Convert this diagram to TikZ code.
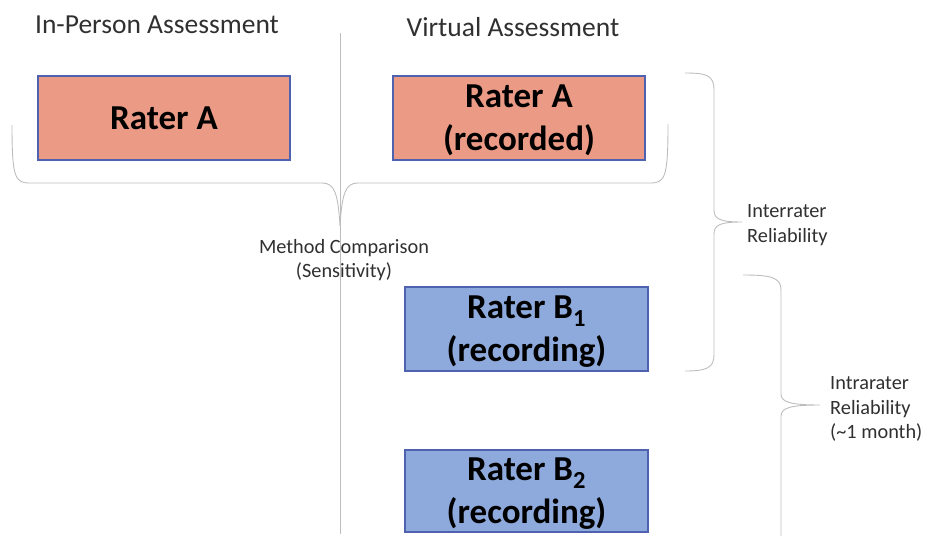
\documentclass[tikz,border=0pt]{standalone}
\usepackage{fontspec}
\setmainfont{Carlito}
\definecolor{salmonfill}{HTML}{EA9A85}
\definecolor{bluefill}{HTML}{8EA9DB}
\definecolor{boxedge}{HTML}{4F62B0}
\definecolor{bracegray}{HTML}{BDBDBD}
\definecolor{labeltext}{HTML}{303030}
\tikzset{
  raterbox/.style={draw=boxedge, line width=1.3pt, minimum width=252pt, minimum height=84pt,
    align=center, inner sep=0pt, text depth=0pt, font=\bfseries\fontsize{35}{43}\selectfont},
  inperson/.style={raterbox, fill=salmonfill},
  recorder/.style={raterbox, fill=bluefill, minimum width=243pt},
  bracket/.style={draw=bracegray, line width=0.9pt},
  heading/.style={font=\fontsize{27.5}{32}\selectfont, text=labeltext, inner sep=0pt},
  sidenote/.style={font=\fontsize{20.3}{24.5}\selectfont, text=labeltext, align=left, inner sep=0pt},
}
\begin{document}
\begin{tikzpicture}[x=1pt, y=-1pt]
\useasboundingbox (0,0) rectangle (925,536);

% column headings
\node[heading] (inhead) at (157,25) {In-Person Assessment};
\node[heading] (virthead) at (513,27) {Virtual Assessment};

% divider between the two assessment columns
\coordinate (divtop) at (340,33);
\coordinate (divbot) at (340,534);
\draw[bracket] (divtop) -- (divbot);

% rater boxes
\node[inperson] (raterA) at (164,118) {Rater A};
\node[inperson] (raterArec) at (519,118) {Rater A\\(recorded)};
\node[recorder] (raterB1) at (526.5,329) {Rater B\textsubscript{1}\\(recording)};
\node[recorder, minimum height=82pt] (raterB2) at (526.5,491) {Rater B\textsubscript{2}\\(recording)};

% brace under both Rater A boxes
\draw[bracket] (12,125) .. controls (12,178) and (15,183) .. (30,183) -- (322,183)
  .. controls (334,183) and (338,192) .. (340,226)
  .. controls (342,192) and (346,183) .. (358,183) -- (650,183)
  .. controls (665,183) and (668,178) .. (668,124);
\node[sidenote, align=center] (method) at (344,260) {Method Comparison\\(Sensitivity)};

% interrater brace
\draw[bracket] (685,73) .. controls (706,73) and (714,75) .. (714,90) -- (714,210)
  .. controls (714,219) and (720,222) .. (742,222)
  .. controls (720,222) and (714,225) .. (714,234) -- (714,355)
  .. controls (714,368) and (706,371) .. (685,371);
\node[sidenote, anchor=west] (inter) at (747,225) {Interrater\\Reliability};

% intrarater brace
\draw[bracket] (743,275) .. controls (770,275) and (781,277) .. (781,290) -- (781,394)
  .. controls (781,402) and (790,405) .. (820,405)
  .. controls (790,405) and (781,408) .. (781,416) -- (781,536);
\node[sidenote, anchor=west] (intra) at (830,409) {Intrarater\\Reliability\\(\textasciitilde 1 month)};
\end{tikzpicture}
\end{document}
